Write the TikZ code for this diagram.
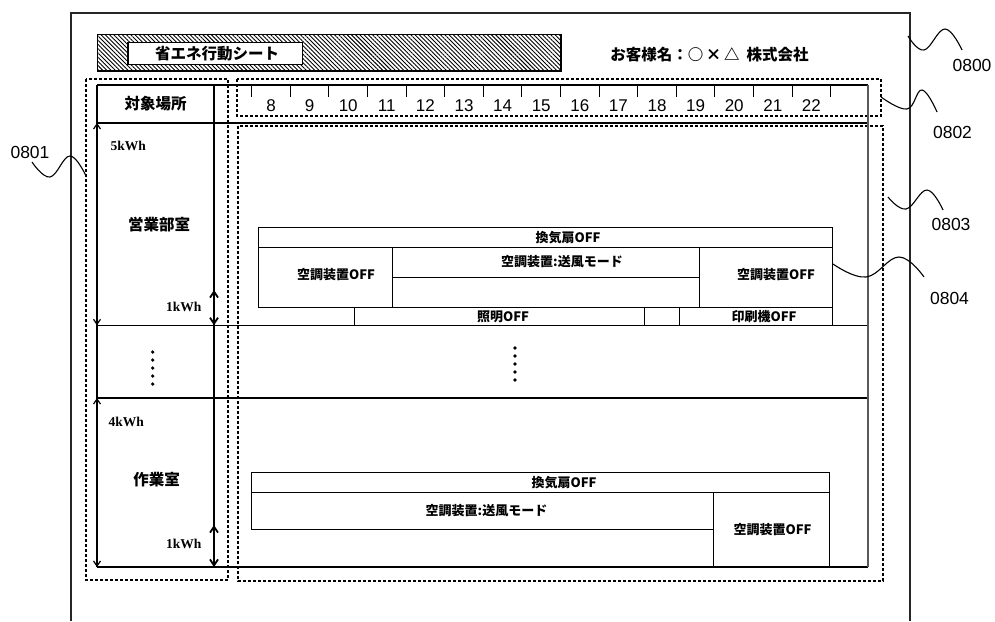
\documentclass[tikz,border=0pt]{standalone}
\usepackage{fontspec}
\setmainfont{Liberation Sans}
\newfontfamily\jp{Noto Sans CJK JP}
\newfontfamily\serifb{Liberation Serif}
\usetikzlibrary{arrows.meta,patterns.meta}
\tikzset{
  box/.style={draw, line width=1pt, inner sep=0pt, outer sep=0pt, anchor=north west},
  dotbox/.style={draw, line width=1.3pt, dash pattern=on 3pt off 2pt},
  jpbig/.style={font=\jp\bfseries\fontsize{15.5}{17}\selectfont, inner sep=0pt},
  jpact/.style={font=\jp\bfseries\fontsize{13}{15}\selectfont, inner sep=0pt},
  num/.style={font=\fontsize{17}{19}\selectfont, inner sep=0pt},
  callnum/.style={font=\fontsize{17.5}{19}\selectfont, inner sep=0pt},
  kwh/.style={font=\serifb\bfseries\fontsize{13.5}{15}\selectfont, inner sep=0pt},
  barb/.style={{Straight Barb[length=5pt,width=7pt]}-{Straight Barb[length=5pt,width=7pt]}},
  squig/.style={line width=1.1pt},
}
\begin{document}
\begin{tikzpicture}[x=1pt,y=-1pt,line width=1pt]
\useasboundingbox (0,0) rectangle (995,621);
% page frame
\draw[line width=1.2pt, black!85] (71,621) -- (71,13) -- (910,13) -- (910,621);
% title bar
\path[draw, line width=1.1pt, pattern={Lines[angle=-45,distance=3pt,line width=0.9pt]}] (97.7,34.7) rectangle (561,71);
\node[box, fill=white, line width=1.2pt, minimum width=174.7pt, minimum height=21.6pt] (titlebox) at (128,42.7) {};
\node[jpbig] (title) at (217,54) {省エネ行動シート};
\node[font=\jp\bfseries\fontsize{15.5}{17}\selectfont, inner sep=0pt] (cust) at (709.5,55) {お客様名：○\,×\,△\ \ 株式会社};
% dotted boxes
\draw[dotbox] (86,79) rectangle (228,580);
\draw[dotbox] (237,79) rectangle (881,116);
\draw[dotbox] (238,126) rectangle (883,581);
% table
\draw[line width=1.2pt] (97,85) -- (868,85);
\draw[line width=1.2pt] (97,123) -- (868,123);
\draw[line width=1.2pt] (97,325.3) -- (868,325.3);
\draw[line width=1.2pt] (97,398) -- (868,398);
\draw[line width=1.2pt] (97,567) -- (868,567);
\draw[line width=1.2pt] (97,85) -- (97,567);
\draw[line width=1.2pt] (214,85) -- (214,567);
\draw[line width=1.2pt, black!65] (868,85) -- (868,567);
% ruler
\foreach \i in {0,...,15} \draw[line width=1.1pt] ({251.7+38.6*\i},85) -- ({251.7+38.6*\i},97);
\foreach \h [count=\i from 0] in {8,...,22}
  \node[num] (h\h) at ({251.7+38.6*(\i+0.5)},106) {\h};
% header and rooms
\node[jpbig] (hdr) at (155.5,104) {対象場所};
\node[jpbig] (room1) at (159,225) {営業部室};
\node[jpbig] (room3) at (156.5,480) {作業室};
% scales
\draw[barb, line width=1.2pt] (97,123) -- (97,325.3);
\draw[barb, line width=1.2pt] (97,398) -- (97,567);
\draw[{Straight Barb[length=6pt,width=8pt]}-{Straight Barb[length=6pt,width=8pt]}, line width=1.8pt] (214,290) -- (214,325.3);
\draw[{Straight Barb[length=6pt,width=8pt]}-{Straight Barb[length=6pt,width=8pt]}, line width=1.8pt] (214,525) -- (214,567);
\node[kwh, anchor=west] (kwh5) at (110,146) {5kWh};
\node[kwh, anchor=east] (kwh1a) at (202,307) {1kWh};
\node[kwh, anchor=west] (kwh4) at (108,422) {4kWh};
\node[kwh, anchor=east] (kwh1b) at (202,544) {1kWh};
% dots
\foreach \i in {0,...,4} {
  \fill (152.7,{352+8*\i}) circle (1.8pt);
  \fill (515,{348+8*\i}) circle (1.8pt);
}
% row 1 activities
\node[box, minimum width=574.4pt, minimum height=19.6pt] (vent1) at (258.3,227.7) {};
\node[box, minimum width=134.4pt, minimum height=60pt] (ac1L) at (258.3,247.3) {};
\node[box, minimum width=306.6pt, minimum height=30pt] (fan1) at (392.7,247.3) {};
\node[box, minimum width=306.6pt, minimum height=30pt] (fan1low) at (392.7,277.3) {};
\node[box, minimum width=133.4pt, minimum height=60pt] (ac1R) at (699.3,247.3) {};
\node[box, minimum width=290pt, minimum height=18pt] (light1) at (354.3,307.3) {};
\node[box, minimum width=153.7pt, minimum height=18pt] (print1) at (679,307.3) {};
\node[jpact] (tvent1) at (568,237.5) {換気扇OFF};
\node[jpact] (tac1L) at (336,275) {空調装置OFF};
\node[jpact] (tfan1) at (562,262) {空調装置:送風モード};
\node[jpact] (tac1R) at (776,275) {空調装置OFF};
\node[jpact] (tlight1) at (503,316.5) {照明OFF};
\node[jpact] (tprint1) at (764,316.5) {印刷機OFF};
% row 3 activities
\node[box, minimum width=577.3pt, minimum height=19.6pt] (vent3) at (251.7,472.7) {};
\node[box, minimum width=461.6pt, minimum height=37pt] (fan3) at (251.7,492.3) {};
\node[box, minimum width=115.7pt, minimum height=75pt] (ac3) at (713.3,492.3) {};
\node[jpact] (tvent3) at (564,483) {換気扇OFF};
\node[jpact] (tfan3) at (486.5,511) {空調装置:送風モード};
\node[jpact] (tac3) at (772.5,530) {空調装置OFF};
% callouts
\node[callnum] (c800) at (972,65) {0800};
\node[callnum] (c802) at (952.5,132) {0802};
\node[callnum] (c803) at (951,224) {0803};
\node[callnum] (c804) at (949.5,298) {0804};
\node[callnum] (c801) at (30,152) {0801};
\coordinate (s800) at (908,36);
\coordinate (e800) at (962,50);
\coordinate (s802) at (881,97);
\coordinate (e802) at (937,112);
\coordinate (s803) at (888,197);
\coordinate (e803) at (943,210);
\coordinate (s804) at (833,264);
\coordinate (e804) at (924,277);
\coordinate (s801) at (32,162);
\coordinate (e801) at (86.5,177);
\draw[squig] plot[smooth, tension=0.7] coordinates {(s800) (924,50) (945,29) (e800)};
\draw[squig] plot[smooth, tension=0.7] coordinates {(s802) (907,109) (922,90) (e802)};
\draw[squig] plot[smooth, tension=0.7] coordinates {(s803) (906,209) (927,190) (e803)};
\draw[squig] plot[smooth, tension=0.7] coordinates {(s804) (866,277) (899,257) (e804)};
\draw[squig] plot[smooth, tension=0.7] coordinates {(s801) (50,177) (70,156) (e801)};
\end{tikzpicture}
\end{document}
